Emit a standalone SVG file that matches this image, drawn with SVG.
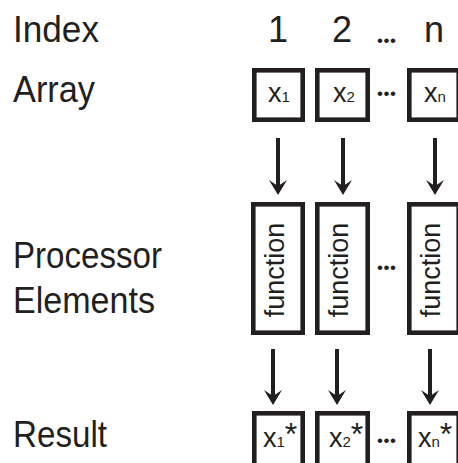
<svg xmlns="http://www.w3.org/2000/svg" width="458" height="463" viewBox="0 0 458 463">
<defs>
<style>
text{font-family:"Liberation Sans",Arial,sans-serif;fill:#231f20}
.lbl{font-size:37px}
.idx{font-size:36px;text-anchor:middle}
.box{fill:#fff;stroke:#231f20;stroke-width:4.6}
.v{font-size:27px}
.sub{font-size:15px}
.ast{font-size:32px}
.fn{font-size:27px;text-anchor:middle}
.dots{font-size:17px;letter-spacing:0.6px}
.shaft{stroke:#231f20;stroke-width:4;fill:none}
.head{fill:#231f20}
</style>
<path id="ah" class="head" d="M0,0 L-9,-15 L0,-9 L9,-15 Z"/>
</defs>
<rect width="458" height="463" fill="#fff"/>
<g id="labels">
<text class="lbl" x="13" y="42" textLength="86" lengthAdjust="spacingAndGlyphs">Index</text>
<text class="lbl" x="13" y="102" textLength="82" lengthAdjust="spacingAndGlyphs">Array</text>
<text class="lbl" x="13" y="268" textLength="149" lengthAdjust="spacingAndGlyphs">Processor</text>
<text class="lbl" x="13" y="313" textLength="142" lengthAdjust="spacingAndGlyphs">Elements</text>
<text class="lbl" x="13" y="447" textLength="94" lengthAdjust="spacingAndGlyphs">Result</text>
</g>
<g id="index">
<text class="idx" x="278" y="42">1</text>
<text class="idx" x="342" y="42">2</text>
<text class="dots" x="377" y="45.5">•••</text>
<text class="idx" x="434" y="42">n</text>
</g>
<g id="connectors">
<line class="shaft" x1="278" y1="138" x2="278" y2="190"/>
<use href="#ah" x="278" y="195"/>
<line class="shaft" x1="343" y1="138" x2="343" y2="190"/>
<use href="#ah" x="343" y="195"/>
<line class="shaft" x1="435" y1="138" x2="435" y2="190"/>
<use href="#ah" x="435" y="195"/>
<line class="shaft" x1="273" y1="349" x2="273" y2="400"/>
<use href="#ah" x="273" y="405"/>
<line class="shaft" x1="337" y1="349" x2="337" y2="400"/>
<use href="#ah" x="337" y="405"/>
<line class="shaft" x1="430" y1="349" x2="430" y2="400"/>
<use href="#ah" x="430" y="405"/>
</g>
<g id="array1">
<rect class="box" x="254.3" y="70.3" width="48.4" height="49.4"/>
<text x="268" y="102"><tspan class="v">x</tspan><tspan class="sub">1</tspan></text>
</g>
<g id="array2">
<rect class="box" x="317.3" y="70.3" width="50.4" height="49.4"/>
<text x="333" y="102"><tspan class="v">x</tspan><tspan class="sub">2</tspan></text>
</g>
<text class="dots" x="377" y="98.5">•••</text>
<g id="arrayn">
<rect class="box" x="409.3" y="70.3" width="49.4" height="49.4"/>
<text x="424" y="102"><tspan class="v">x</tspan><tspan class="sub">n</tspan></text>
</g>
<g id="pe1">
<rect class="box" x="253.3" y="204.3" width="49.4" height="128.4"/>
<text class="fn" transform="translate(283.5,270) rotate(-90)">function</text>
</g>
<g id="pe2">
<rect class="box" x="317.3" y="204.3" width="50.4" height="128.4"/>
<text class="fn" transform="translate(348,270) rotate(-90)">function</text>
</g>
<text class="dots" x="377" y="273">•••</text>
<g id="pen">
<rect class="box" x="409.3" y="204.3" width="49.4" height="128.4"/>
<text class="fn" transform="translate(439.5,270) rotate(-90)">function</text>
</g>
<g id="result1">
<rect class="box" x="254.3" y="413.3" width="48.4" height="60"/>
<text x="263" y="447"><tspan class="v">x</tspan><tspan class="sub">1</tspan><tspan class="ast" dy="-2">*</tspan></text>
</g>
<g id="result2">
<rect class="box" x="317.3" y="413.3" width="50.4" height="60"/>
<text x="329" y="447"><tspan class="v">x</tspan><tspan class="sub">2</tspan><tspan class="ast" dy="-2">*</tspan></text>
</g>
<text class="dots" x="377" y="446">•••</text>
<g id="resultn">
<rect class="box" x="409.3" y="413.3" width="49.4" height="60"/>
<text x="418" y="447"><tspan class="v">x</tspan><tspan class="sub">n</tspan><tspan class="ast" dy="-2">*</tspan></text>
</g>
</svg>
